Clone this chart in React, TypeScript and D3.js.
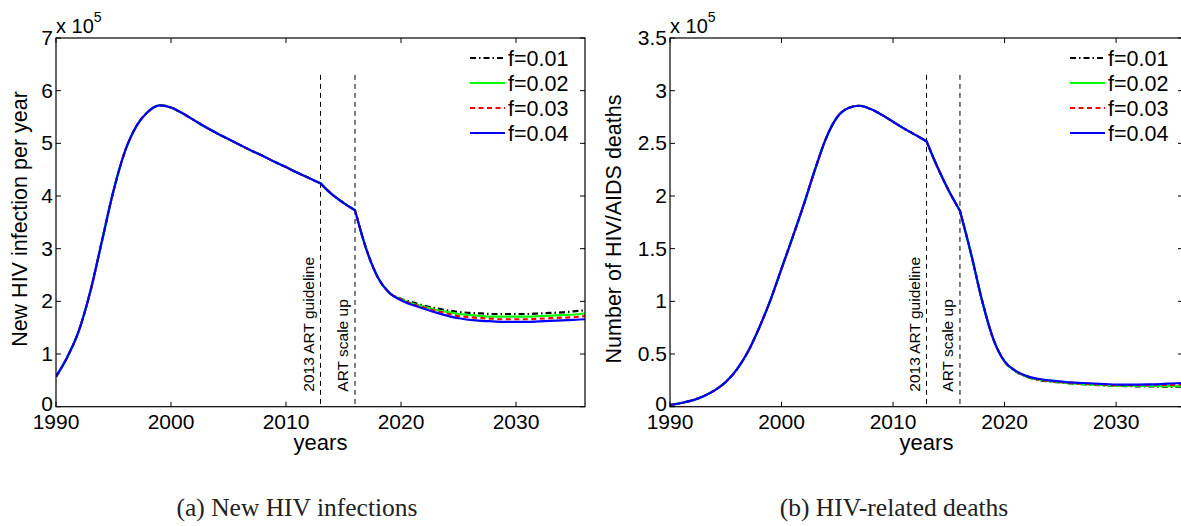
import * as d3 from 'd3'

// ---- data (in units of 10^5) ----
const years = [
  1990, 1991, 1992, 1993, 1994, 1995, 1996, 1997, 1998, 1999,
  2000, 2001, 2002, 2003, 2004, 2005, 2006, 2007, 2008, 2009,
  2010, 2011, 2012, 2013, 2014, 2015, 2016, 2017, 2018, 2019,
  2020, 2021, 2022, 2023, 2024, 2025, 2026, 2027, 2028, 2029,
  2030, 2031, 2032, 2033, 2034, 2035, 2036,
]

// new HIV infections, identical for every f until 2019
const infectionsShared = [
  0.57, 0.95, 1.45, 2.2, 3.15, 4.1, 4.85, 5.33, 5.6, 5.72,
  5.68, 5.57, 5.44, 5.31, 5.19, 5.08, 4.97, 4.86, 4.76, 4.65,
  4.55, 4.44, 4.34, 4.24, 4.03, 3.87, 3.73, 2.98, 2.45, 2.16,
]
// 2020 – 2036
const infections001 = [2.05, 1.98, 1.92, 1.87, 1.83, 1.8, 1.78, 1.77, 1.76, 1.76, 1.76, 1.76, 1.77, 1.78, 1.79, 1.81, 1.83]
const infections002 = [2.04, 1.96, 1.9, 1.84, 1.8, 1.76, 1.74, 1.72, 1.71, 1.71, 1.71, 1.71, 1.72, 1.73, 1.74, 1.75, 1.77]
const infections003 = [2.03, 1.95, 1.88, 1.82, 1.77, 1.72, 1.7, 1.68, 1.67, 1.66, 1.66, 1.66, 1.67, 1.68, 1.69, 1.7, 1.72]
const infections004 = [2.02, 1.93, 1.86, 1.79, 1.73, 1.68, 1.65, 1.63, 1.62, 1.61, 1.61, 1.61, 1.62, 1.63, 1.64, 1.65, 1.66]

// HIV/AIDS deaths, identical for every f until 2020
const deathsShared = [
  0.016, 0.035, 0.06, 0.1, 0.155, 0.235, 0.355, 0.525, 0.75, 1.01,
  1.31, 1.61, 1.92, 2.25, 2.55, 2.75, 2.835, 2.857, 2.825, 2.77,
  2.705, 2.64, 2.58, 2.52, 2.27, 2.05, 1.86, 1.45, 1.0, 0.64, 0.43,
]
// 2021 – 2036
const deaths001 = [0.335, 0.285, 0.255, 0.24, 0.23, 0.22, 0.213, 0.207, 0.202, 0.198, 0.195, 0.193, 0.192, 0.191, 0.19, 0.19]
const deaths002 = [0.335, 0.285, 0.258, 0.242, 0.232, 0.222, 0.215, 0.21, 0.205, 0.2, 0.2, 0.198, 0.197, 0.196, 0.195, 0.195]
const deaths003 = [0.34, 0.29, 0.26, 0.245, 0.235, 0.225, 0.22, 0.215, 0.21, 0.205, 0.205, 0.205, 0.205, 0.207, 0.208, 0.21]
const deaths004 = [0.34, 0.29, 0.265, 0.25, 0.24, 0.23, 0.225, 0.22, 0.215, 0.21, 0.21, 0.21, 0.212, 0.215, 0.22, 0.225]

const legendLabels = ['f=0.01', 'f=0.02', 'f=0.03', 'f=0.04']
const xTicks = [1990, 2000, 2010, 2020, 2030]
const infectionTicks = [0, 1, 2, 3, 4, 5, 6, 7]
const deathTicks = [0, 0.5, 1, 1.5, 2, 2.5, 3, 3.5]
const markerYears = [2013, 2016]
const markerLabels = ['2013 ART guideline', 'ART scale up']

// ---- styling ----
const seriesStyle = [
  { color: '#000000', dash: '6,3,1.5,3' },
  { color: '#00ff00', dash: undefined },
  { color: '#ff0000', dash: '5,3.5' },
  { color: '#0000ff', dash: undefined },
]
const SANS = '"Liberation Sans", Arial, Helvetica, sans-serif'
const SERIF = '"Liberation Serif", "Times New Roman", serif'

type PanelProps = {
  id: string
  left: number
  right: number
  top: number
  bottom: number
  yMax: number
  yTicks: number[]
  series: number[][]
  markerTop: number
  yLabel: string
  yLabelX: number
  yLabelY: number
  legendX: number
  caption: string
  captionX: number
}

function Panel(p: PanelProps) {
  const x = d3.scaleLinear().domain([1990, 2036]).range([p.left, p.right])
  const y = d3.scaleLinear().domain([0, p.yMax]).range([p.bottom, p.top])
  const line = d3
    .line<[number, number]>()
    .x((d) => x(d[0]))
    .y((d) => y(d[1]))
    .curve(d3.curveMonotoneX)

  // policy changes in 2013 and 2016 put corners in the curves, so smooth each piece apart
  const pathFor = (s: number[]) => {
    const pts: [number, number][] = s.map((v, i) => [years[i], v])
    const cuts = markerYears.map((yr) => years.indexOf(yr))
    const pieces = [pts.slice(0, cuts[0] + 1), pts.slice(cuts[0], cuts[1] + 1), pts.slice(cuts[1])]
    return pieces.map((seg, i) => (i === 0 ? line(seg) ?? '' : (line(seg) ?? '').replace(/^M/, 'L'))).join('')
  }
  const tick = 5

  return (
    <g fontFamily={SANS} fill="#000">
      <defs>
        <clipPath id={`clip-${p.id}`}>
          <rect x={p.left} y={p.top} width={p.right - p.left} height={p.bottom - p.top} />
        </clipPath>
      </defs>

      {/* marker lines */}
      {markerYears.map((yr, i) => (
        <g key={yr}>
          <line
            x1={x(yr)}
            x2={x(yr)}
            y1={y(p.markerTop)}
            y2={p.bottom}
            stroke="#000"
            strokeWidth={1}
            strokeDasharray="5,4"
          />
          <text transform={`translate(${x(yr) - 7},${p.bottom - 15}) rotate(-90)`} fontSize={15.5}>
            {markerLabels[i]}
          </text>
        </g>
      ))}

      {/* curves */}
      <g clipPath={`url(#clip-${p.id})`}>
        {p.series.map((s, i) => (
          <path
            key={i}
            d={pathFor(s)}
            fill="none"
            stroke={seriesStyle[i].color}
            strokeWidth={2.2}
            strokeDasharray={seriesStyle[i].dash}
            strokeLinejoin="round"
          />
        ))}
      </g>

      {/* frame and ticks */}
      <rect
        x={p.left}
        y={p.top}
        width={p.right - p.left}
        height={p.bottom - p.top}
        fill="none"
        stroke="#000"
        strokeWidth={1.2}
      />
      {xTicks.map((t) => (
        <g key={t}>
          <line x1={x(t)} x2={x(t)} y1={p.bottom} y2={p.bottom - tick} stroke="#000" />
          <line x1={x(t)} x2={x(t)} y1={p.top} y2={p.top + tick} stroke="#000" />
          <text x={x(t)} y={p.bottom + 22} textAnchor="middle" fontSize={21}>
            {t}
          </text>
        </g>
      ))}
      {p.yTicks.map((t) => (
        <g key={t}>
          <line x1={p.left} x2={p.left + tick} y1={y(t)} y2={y(t)} stroke="#000" />
          <line x1={p.right} x2={p.right - tick} y1={y(t)} y2={y(t)} stroke="#000" />
          <text x={p.left - 3} y={y(t) - (t === 0 ? 3 : 0)} dy="0.33em" textAnchor="end" fontSize={21}>
            {t}
          </text>
        </g>
      ))}

      {/* exponent */}
      <text x={p.left} y={p.top - 5} fontSize={20}>
        x 10
        <tspan fontSize={14} dy={-11}>
          5
        </tspan>
      </text>

      {/* axis labels */}
      <text
        transform={`translate(${p.yLabelX},${p.yLabelY}) rotate(-90)`}
        textAnchor="middle"
        fontSize={21.5}
      >
        {p.yLabel}
      </text>
      <text x={(p.left + p.right) / 2} y={450} textAnchor="middle" fontSize={22}>
        years
      </text>

      {/* legend */}
      {legendLabels.map((lab, i) => {
        const ly = 58 + i * 25
        return (
          <g key={lab}>
            <line
              x1={p.legendX}
              x2={p.legendX + 35}
              y1={ly}
              y2={ly}
              stroke={seriesStyle[i].color}
              strokeWidth={2.2}
              strokeDasharray={seriesStyle[i].dash}
            />
            <text x={p.legendX + 38} y={ly} dy="0.36em" fontSize={21.5}>
              {lab}
            </text>
          </g>
        )
      })}

      {/* caption */}
      <text x={p.captionX} y={516} textAnchor="middle" fontFamily={SERIF} fontSize={25.5} fill="#222">
        {p.caption}
      </text>
    </g>
  )
}

export default function App() {
  const infections = [infections001, infections002, infections003, infections004].map((t) => [
    ...infectionsShared,
    ...t,
  ])
  const deaths = [deaths001, deaths002, deaths003, deaths004].map((t) => [...deathsShared, ...t])

  return (
    <svg
      width={1181}
      height={526}
      viewBox="0 0 1181 526"
      style={{ position: 'fixed', left: 0, top: 0, background: '#fff' }}
    >
      <rect width={1181} height={526} fill="#fff" />
      <Panel
        id="a"
        left={56}
        right={585}
        top={38}
        bottom={406.7}
        yMax={7}
        yTicks={infectionTicks}
        series={infections}
        markerTop={6.3}
        yLabel="New HIV infection per year"
        yLabelX={27}
        yLabelY={219}
        legendX={470}
        caption="(a) New HIV infections"
        captionX={297}
      />
      <Panel
        id="b"
        left={670}
        right={1183}
        top={38}
        bottom={406.7}
        yMax={3.5}
        yTicks={deathTicks}
        series={deaths}
        markerTop={3.15}
        yLabel="Number of HIV/AIDS deaths"
        yLabelX={621}
        yLabelY={229}
        legendX={1070}
        caption="(b) HIV-related deaths"
        captionX={894}
      />
    </svg>
  )
}
